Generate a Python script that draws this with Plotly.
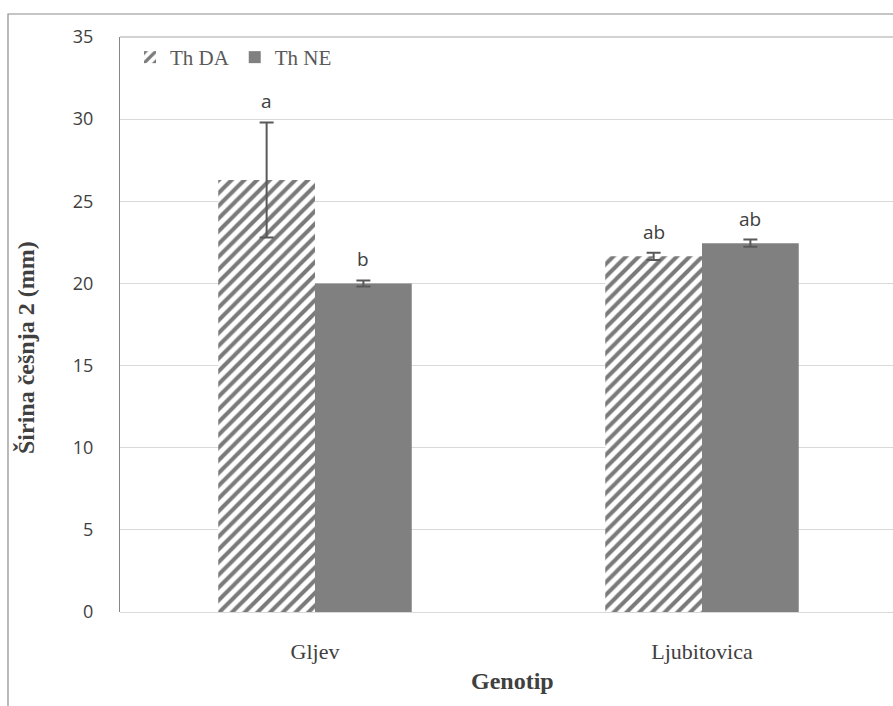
import plotly.graph_objects as go

# Data
genotypes = ["Gljev", "Ljubitovica"]
th_da = [26.3, 21.65]
th_da_err = [3.5, 0.22]
th_ne = [20.0, 22.45]
th_ne_err = [0.18, 0.22]
da_letters = ["a", "ab"]
ne_letters = ["b", "ab"]
y_ticks = [0, 5, 10, 15, 20, 25, 30, 35]

W, H = 893, 706
L, R, T, B = 120, 0, 37, 94
plot_w = W - L - R
plot_h = H - T - B

serif = "Liberation Serif, Times New Roman, serif"
sans = "Open Sans"


def px_x(px):
    return (px - L) / plot_w


def px_y(py):
    return (H - B - py) / plot_h


fig = go.Figure()

fig.add_trace(go.Bar(
    name="Th DA", x=genotypes, y=th_da,
    marker=dict(color="white", line=dict(width=0),
                pattern=dict(shape="/", fgcolor="#7a7a7a", bgcolor="white",
                             fgopacity=1, size=9, solidity=0.45)),
    error_y=dict(type="data", array=th_da_err, color="#595959", thickness=2, width=7),
))
fig.add_trace(go.Bar(
    name="Th NE", x=genotypes, y=th_ne,
    marker=dict(color="#808080", line=dict(width=0)),
    error_y=dict(type="data", array=th_ne_err, color="#595959", thickness=2, width=7),
))

# significance letters above the error bars
for i, g in enumerate(genotypes):
    for val, err, lab, off in [(th_da[i], th_da_err[i], da_letters[i], -0.125),
                               (th_ne[i], th_ne_err[i], ne_letters[i], 0.125)]:
        fig.add_annotation(x=i + off, y=val + err, text=lab, showarrow=False,
                           xref="x", yref="y", yanchor="bottom", yshift=6,
                           font=dict(family=sans, size=19, color="#404040"))

# axis titles
fig.add_annotation(x=px_x(512), y=px_y(681), xref="paper", yref="paper",
                   xanchor="center", yanchor="middle",
                   text="<b>Genotip</b>", showarrow=False,
                   font=dict(family=serif, size=24, color="#404040"))
fig.add_annotation(x=px_x(26), y=px_y(348), xref="paper", yref="paper",
                   xanchor="center", yanchor="middle",
                   text="<b>Širina češnja 2 (mm)</b>", showarrow=False, textangle=-90,
                   font=dict(family=serif, size=24, color="#404040"))

# outer chart frame (left and top edges)
fig.add_shape(type="path", xref="paper", yref="paper",
              path=f"M {px_x(8)},-0.3 L {px_x(8)},{px_y(14)} L 1.05,{px_y(14)}",
              line=dict(color="#8c8c8c", width=1.2))
# plot area top edge
fig.add_shape(type="line", xref="paper", yref="paper", x0=0, x1=1, y0=1, y1=1,
              line=dict(color="#a6a6a6", width=1.2))

cat_px = 387
fig.update_layout(
    width=W, height=H,
    margin=dict(l=L, r=R, t=T, b=B),
    paper_bgcolor="white", plot_bgcolor="white",
    barmode="group", bargap=0.5, bargroupgap=0,
    showlegend=True,
    legend=dict(orientation="h", x=px_x(130), y=px_y(37), xanchor="left", yanchor="top",
                font=dict(family=serif, size=21, color="#595959"),
                bgcolor="rgba(0,0,0,0)", itemwidth=30, traceorder="normal"),
    xaxis=dict(
        type="category",
        range=[-(315 - L) / cat_px, 1 + (W - 702) / cat_px],
        showgrid=False, showline=False, ticks="",
        ticklabelstandoff=24,
        tickfont=dict(family=serif, size=22, color="#404040"),
    ),
    yaxis=dict(
        range=[0, 35], tickvals=y_ticks, showgrid=True, gridcolor="#d9d9d9", gridwidth=1,
        zeroline=True, zerolinecolor="#d9d9d9", zerolinewidth=1,
        showline=True, linecolor="#868686", linewidth=1.2, ticks="",
        ticklabelstandoff=22,
        tickfont=dict(family=sans, size=18, color="#404040"),
    ),
)

fig.write_html("out.html")
